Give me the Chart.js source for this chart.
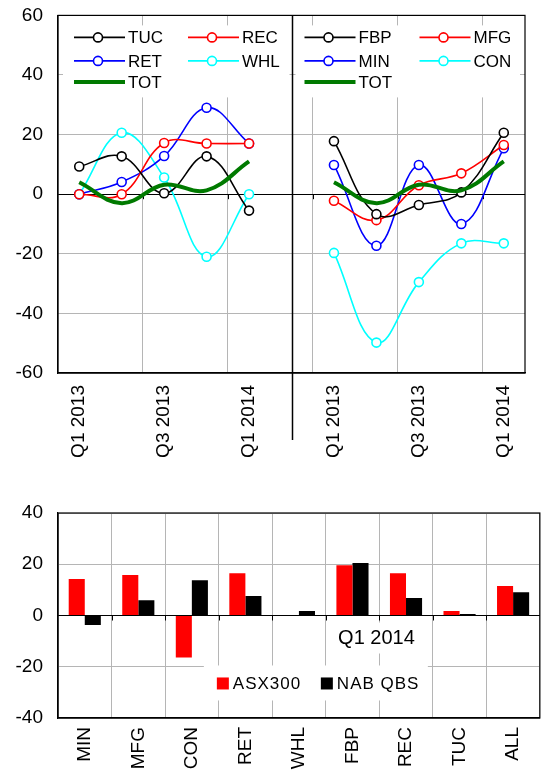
<!DOCTYPE html>
<html>
<head>
<meta charset="utf-8">
<script src="https://cdn.jsdelivr.net/npm/chart.js@4.4.1/dist/chart.umd.min.js"></script>
<style>
  html, body { margin: 0; padding: 0; background: #fff; }
  #c1 { position: absolute; left: 0; top: 0; }
  #c2 { position: absolute; left: 0; top: 490px; }
</style>
</head>
<body>
<canvas id="c1" width="545" height="470"></canvas>
<canvas id="c2" width="545" height="286"></canvas>
<script>
// ---- quarterly series (two panels) ----
const quarters = ['Q1 2013', 'Q2 2013', 'Q3 2013', 'Q4 2013', 'Q1 2014'];
const tuc = [9.3, 12.7, 0.3, 12.7, -5.5];
const rec = [0, 0, 17.2, 17, 17];
const ret = [0, 4.1, 12.8, 29, 17];
const whl = [0, 20.6, 5.6, -21, 0];
const fbp = [17.8, -6.7, -3.6, 0.6, 20.6];
const mfg = [-2.2, -8.7, 3, 7, 16.5];
const min = [9.8, -17.3, 9.8, -10, 15.4];
const con = [-19.7, -49.8, -29.5, -16.5, -16.5];
const tot = [4, -3, 3.2, 1.3, 11];
const topYTicks = [-60, -40, -20, 0, 20, 40, 60];

// ---- Q1 2014 sector comparison ----
const sectors = ['MIN', 'MFG', 'CON', 'RET', 'WHL', 'FBP', 'REC', 'TUC', 'ALL'];
const asx300 = [14.2, 15.8, -16.4, 16.5, 0, 19.6, 16.5, 1.8, 11.5];
const nabQbs = [-3.7, 6, 13.8, 7.6, 1.8, 20.5, 6.8, 0.6, 9.1];
const bottomYTicks = [-40, -20, 0, 20, 40];

const FONT = '"Liberation Sans", Arial, sans-serif';
const GRID = '#b5b5b5';
const CLEAR = 'rgba(0,0,0,0)';
const COLORS = { black: '#000000', red: '#ff0000', blue: '#0000ff', cyan: '#00ffff', green: '#007a00' };

// 11 category slots: left panel, an empty gap slot, right panel
const topLabels = quarters.concat([''], quarters);
const blank = n => Array(n).fill(null);
const leftData = arr => arr.concat(blank(6));
const rightData = arr => blank(6).concat(arr);

function lineSet(label, data, color) {
  return {
    label, data, borderColor: color, backgroundColor: '#fff',
    borderWidth: 1.6, tension: 0.4, spanGaps: false,
    pointRadius: 4.5, pointHoverRadius: 4.5, pointBorderWidth: 1.6,
    pointBackgroundColor: '#fff', pointBorderColor: color, order: 1
  };
}
function totSet(data) {
  return {
    label: 'TOT', data, borderColor: COLORS.green, borderWidth: 4,
    tension: 0.4, pointRadius: 0, spanGaps: false, order: 0
  };
}

const leftLegend = [
  ['TUC', COLORS.black, true], ['REC', COLORS.red, true],
  ['RET', COLORS.blue, true], ['WHL', COLORS.cyan, true],
  ['TOT', COLORS.green, false]
];
const rightLegend = [
  ['FBP', COLORS.black, true], ['MFG', COLORS.red, true],
  ['MIN', COLORS.blue, true], ['CON', COLORS.cyan, true],
  ['TOT', COLORS.green, false]
];

function drawLegendItem(ctx, x0, yc, label, color, marker) {
  ctx.save();
  ctx.strokeStyle = color;
  ctx.lineWidth = marker ? 1.6 : 4;
  ctx.beginPath();
  ctx.moveTo(x0, yc);
  ctx.lineTo(x0 + 51, yc);
  ctx.stroke();
  if (marker) {
    ctx.fillStyle = '#fff';
    ctx.beginPath();
    ctx.arc(x0 + 24, yc, 4.5, 0, Math.PI * 2);
    ctx.fill();
    ctx.stroke();
  }
  ctx.fillStyle = '#000';
  ctx.font = '17px ' + FONT;
  ctx.textBaseline = 'middle';
  ctx.textAlign = 'left';
  ctx.fillText(label, x0 + 54, yc + 1);
  ctx.restore();
}

function drawPanelLegend(ctx, items, colX, rowsY) {
  items.forEach((it, i) => {
    const col = i % 2, row = Math.floor(i / 2);
    drawLegendItem(ctx, colX[col], rowsY[row], it[0], it[1], it[2]);
  });
}

const topDecor = {
  id: 'topDecor',
  beforeDatasetsDraw(chart) {
    const { ctx, chartArea: a, scales: { x, y } } = chart;
    const slot = a.width / topLabels.length;
    const mid = x.getPixelForValue(5);
    ctx.save();
    // white legend backgrounds over the grid
    ctx.fillStyle = '#fff';
    ctx.fillRect(a.left + 5, a.top + 10, mid - a.left - 7, 72);
    ctx.fillRect(mid + 4, a.top + 10, a.right - mid - 9, 72);
    // small tick marks hanging from the zero line
    const y0 = y.getPixelForValue(0);
    ctx.strokeStyle = '#000';
    ctx.lineWidth = 1;
    for (let i = 2; i <= 10; i += 2) {
      const px = Math.round(a.left + i * slot) + 0.5;
      ctx.beginPath();
      ctx.moveTo(px, y0);
      ctx.lineTo(px, y0 + 5);
      ctx.stroke();
    }
    ctx.restore();
  },
  afterDatasetsDraw(chart) {
    const { ctx, chartArea: a, scales: { x } } = chart;
    const mid = x.getPixelForValue(5);
    const rows = [a.top + 22, a.top + 45.5, a.top + 66.5];
    drawPanelLegend(ctx, leftLegend, [a.left + 16, a.left + 130], rows);
    drawPanelLegend(ctx, rightLegend, [mid + 13, mid + 128], rows);
    ctx.save();
    ctx.strokeStyle = '#000';
    ctx.lineWidth = 1.2;
    ctx.strokeRect(a.left, a.top, a.right - a.left, a.bottom - a.top);
    // panel divider runs down through the label band
    ctx.lineWidth = 1.5;
    ctx.beginPath();
    ctx.moveTo(Math.round(mid) + 0.5, a.top);
    ctx.lineTo(Math.round(mid) + 0.5, a.bottom + 67);
    ctx.stroke();
    ctx.restore();
  }
};

new Chart(document.getElementById('c1'), {
  type: 'line',
  data: {
    labels: topLabels,
    datasets: [
      lineSet('TUC', leftData(tuc), COLORS.black),
      lineSet('REC', leftData(rec), COLORS.red),
      lineSet('RET', leftData(ret), COLORS.blue),
      lineSet('WHL', leftData(whl), COLORS.cyan),
      totSet(leftData(tot)),
      lineSet('FBP', rightData(fbp), COLORS.black),
      lineSet('MFG', rightData(mfg), COLORS.red),
      lineSet('MIN', rightData(min), COLORS.blue),
      lineSet('CON', rightData(con), COLORS.cyan),
      totSet(rightData(tot))
    ]
  },
  options: {
    responsive: false,
    animation: false,
    layout: { padding: { left: 0, right: 20, top: 15, bottom: 0 } },
    plugins: { legend: { display: false }, tooltip: { enabled: false } },
    scales: {
      x: {
        offset: true,
        grid: {
          offset: true, drawTicks: false,
          color: c => (c.index % 2 === 0 ? GRID : CLEAR)
        },
        border: { display: true, color: '#000', width: 1.2 },
        ticks: {
          autoSkip: false, minRotation: 90, maxRotation: 90, padding: 12,
          color: '#000', font: { family: FONT, size: 19 },
          callback: (v, i) => (i % 2 === 0 ? topLabels[i] : '')
        },
        afterFit: s => { s.height = 97; }
      },
      y: {
        min: -60, max: 60,
        afterBuildTicks: s => { s.ticks = topYTicks.map(v => ({ value: v })); },
        grid: {
          drawTicks: true, tickLength: 11, tickColor: CLEAR,
          color: c => (c.tick && c.tick.value === 0 ? '#000' : GRID)
        },
        border: { display: true, color: '#000', width: 1.2 },
        ticks: { padding: 4, color: '#000', font: { family: FONT, size: 19 } },
        afterFit: s => { s.width = 58; }
      }
    }
  },
  plugins: [topDecor]
});

const bottomDecor = {
  id: 'bottomDecor',
  beforeDatasetsDraw(chart) {
    const { ctx, chartArea: a, scales: { x, y } } = chart;
    const slot = a.width / sectors.length;
    const y0 = y.getPixelForValue(0);
    ctx.save();
    ctx.fillStyle = '#fff';
    // title and legend backgrounds
    ctx.fillRect(x.getPixelForValue(5) - 22, y0 + 7, 96, 31);
    ctx.fillRect(x.getPixelForValue(2) + 12, y.getPixelForValue(-19.5), 224, 35);
    ctx.strokeStyle = '#000';
    ctx.lineWidth = 1;
    for (let i = 1; i < sectors.length; i++) {
      const px = Math.round(a.left + i * slot) + 0.5;
      ctx.beginPath();
      ctx.moveTo(px, y0);
      ctx.lineTo(px, y0 + 5);
      ctx.stroke();
    }
    ctx.restore();
  },
  afterDatasetsDraw(chart) {
    const { ctx, chartArea: a, scales: { x, y } } = chart;
    const y0 = y.getPixelForValue(0);
    ctx.save();
    ctx.fillStyle = '#000';
    ctx.font = '20px ' + FONT;
    ctx.textAlign = 'center';
    ctx.textBaseline = 'middle';
    ctx.fillText('Q1 2014', x.getPixelForValue(5) + 24, y0 + 23);

    const ly = y.getPixelForValue(-19.5) + 18;
    const lx = x.getPixelForValue(2) + 25;
    ctx.font = '17px ' + FONT;
    ctx.textAlign = 'left';
    ctx.letterSpacing = '1px';
    ctx.fillStyle = COLORS.red;
    ctx.fillRect(lx, ly - 6, 12, 12);
    ctx.fillStyle = '#000';
    ctx.fillText('ASX300', lx + 16, ly + 1);
    ctx.fillRect(lx + 104, ly - 6, 12, 12);
    ctx.fillText('NAB QBS', lx + 120, ly + 1);
    ctx.letterSpacing = '0px';

    ctx.strokeStyle = '#000';
    ctx.lineWidth = 1.2;
    ctx.strokeRect(a.left, a.top, a.right - a.left, a.bottom - a.top);
    ctx.restore();
  }
};

new Chart(document.getElementById('c2'), {
  type: 'bar',
  data: {
    labels: sectors,
    datasets: [
      { label: 'ASX300', data: asx300, backgroundColor: COLORS.red, borderWidth: 0,
        categoryPercentage: 0.6, barPercentage: 1.0 },
      { label: 'NAB QBS', data: nabQbs, backgroundColor: COLORS.black, borderWidth: 0,
        categoryPercentage: 0.6, barPercentage: 1.0 }
    ]
  },
  options: {
    responsive: false,
    animation: false,
    layout: { padding: { left: 0, right: 2, top: 23, bottom: 0 } },
    plugins: { legend: { display: false }, tooltip: { enabled: false } },
    scales: {
      x: {
        grid: { offset: true, drawTicks: false, color: GRID },
        border: { display: true, color: '#000', width: 1.2 },
        ticks: {
          autoSkip: false, minRotation: 90, maxRotation: 90, padding: 9,
          color: '#000', font: { family: FONT, size: 19 }
        },
        afterFit: s => { s.height = 58; }
      },
      y: {
        min: -40, max: 40,
        afterBuildTicks: s => { s.ticks = bottomYTicks.map(v => ({ value: v })); },
        grid: {
          drawTicks: true, tickLength: 11, tickColor: CLEAR,
          color: c => (c.tick && c.tick.value === 0 ? '#000' : GRID)
        },
        border: { display: true, color: '#000', width: 1.2 },
        ticks: { padding: 4, color: '#000', font: { family: FONT, size: 19 } },
        afterFit: s => { s.width = 58; }
      }
    }
  },
  plugins: [bottomDecor]
});
</script>
</body>
</html>
